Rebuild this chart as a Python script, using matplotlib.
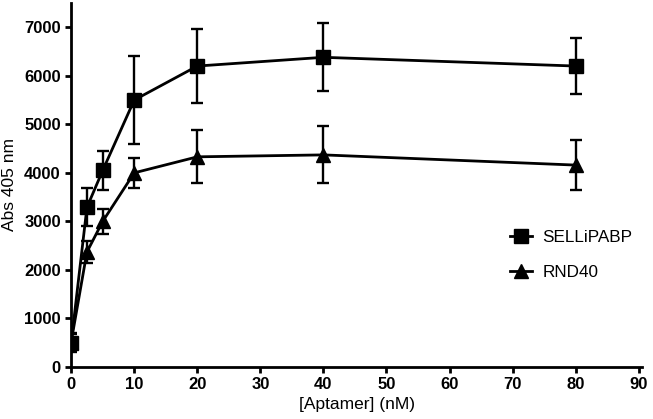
import matplotlib
matplotlib.use("Agg")
import matplotlib.pyplot as plt
from matplotlib.lines import Line2D

conc = [0, 2.5, 5, 10, 20, 40, 80]
sell_mean = [500, 3290, 4050, 5500, 6200, 6380, 6200]
sell_err = [180, 390, 400, 900, 760, 700, 575]
rnd_mean = [520, 2370, 3000, 4000, 4330, 4370, 4160]
rnd_err = [180, 230, 260, 310, 545, 585, 520]
xticks = [0, 10, 20, 30, 40, 50, 60, 70, 80, 90]
yticks = [0, 1000, 2000, 3000, 4000, 5000, 6000, 7000]
labels = ['SELLiPABP', 'RND40']

plt.rcParams['font.family'] = ['Liberation Sans', 'DejaVu Sans']

fig = plt.figure(figsize=(6.53, 4.19), dpi=100)
ax = fig.add_axes([0.109, 0.124, 0.874, 0.869])

common = dict(color='black', lw=2.0, elinewidth=1.7, capsize=4.5, capthick=1.7)
ax.errorbar(conc, rnd_mean, yerr=rnd_err, marker='^', ms=9.5, **common)
ax.errorbar(conc, sell_mean, yerr=sell_err, marker='s', ms=9.5, **common)

ax.set_xlim(0, 90.5)
ax.set_ylim(0, 7500)
ax.set_xticks(xticks)
ax.set_yticks(yticks)
for s in ['top', 'right']:
    ax.spines[s].set_visible(False)
for s in ['left', 'bottom']:
    ax.spines[s].set_linewidth(2)
ax.tick_params(direction='out', length=4.5, width=2, labelsize=12, pad=3)
for lbl in ax.get_xticklabels() + ax.get_yticklabels():
    lbl.set_fontweight('bold')
ax.set_xlabel('[Aptamer] (nM)', fontsize=12.5, labelpad=3)
ax.set_ylabel('Abs 405 nm', fontsize=12.5, labelpad=5)

handles = [Line2D([], [], color='black', lw=2.0, marker='s', ms=9.5),
           Line2D([], [], color='black', lw=2.0, marker='^', ms=9.5)]
fig.legend(handles, labels, loc='center left', bbox_to_anchor=(0.781, 0.392),
           frameon=False, fontsize=12.3, handlelength=1.3, labelspacing=1.2,
           handletextpad=0.6, borderpad=0, borderaxespad=0)

fig.savefig('out.png', dpi=100)
